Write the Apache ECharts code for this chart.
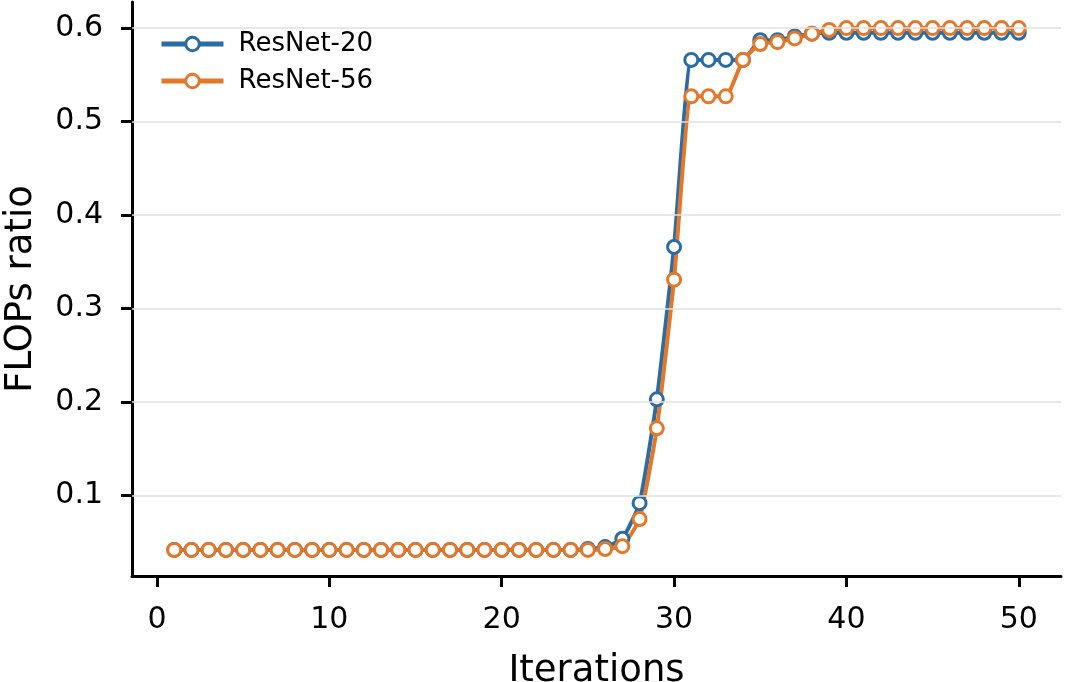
<!DOCTYPE html>
<html>
<head>
<meta charset="utf-8">
<script src="https://cdn.jsdelivr.net/npm/echarts@6/dist/echarts.min.js"></script>
<style>
  html, body { margin: 0; padding: 0; background: #fff; }
  #main { width: 1065px; height: 682px; }
</style>
</head>
<body>
<div id="main"></div>
<script>
// iterations 1..50
var iterations = [];
for (var i = 1; i <= 50; i++) iterations.push(i);

var resnet20 = [
  0.042, 0.042, 0.042, 0.042, 0.042, 0.042, 0.042, 0.042, 0.042, 0.042,
  0.042, 0.042, 0.042, 0.042, 0.042, 0.042, 0.042, 0.042, 0.042, 0.042,
  0.042, 0.042, 0.042, 0.042, 0.043, 0.045, 0.054, 0.092, 0.203, 0.366,
  0.566, 0.566, 0.566, 0.566, 0.587, 0.587, 0.591, 0.594, 0.595, 0.595,
  0.595, 0.595, 0.595, 0.595, 0.595, 0.595, 0.595, 0.595, 0.595, 0.595
];
var resnet56 = [
  0.042, 0.042, 0.042, 0.042, 0.042, 0.042, 0.042, 0.042, 0.042, 0.042,
  0.042, 0.042, 0.042, 0.042, 0.042, 0.042, 0.042, 0.042, 0.042, 0.042,
  0.042, 0.042, 0.042, 0.042, 0.042, 0.043, 0.046, 0.075, 0.172, 0.331,
  0.527, 0.527, 0.527, 0.566, 0.583, 0.585, 0.589, 0.594, 0.598, 0.600,
  0.600, 0.600, 0.600, 0.600, 0.600, 0.600, 0.600, 0.600, 0.600, 0.600
];
var xTicks = [0, 10, 20, 30, 40, 50];
var yTicks = [0.1, 0.2, 0.3, 0.4, 0.5, 0.6];

var blue = '#2c6ca4';
var orange = '#e4782a';
var font = 'DejaVu Sans';

function pairs(ys) {
  return iterations.map(function (x, k) { return [x, ys[k]]; });
}

var chart = echarts.init(document.getElementById('main'));

function lineSeries(name, ys, color) {
  return {
    name: name,
    type: 'line',
    data: pairs(ys),
    smooth: 0.15,
    symbol: 'circle',
    symbolSize: 13,
    showAllSymbol: true,
    lineStyle: { color: color, width: 4 },
    itemStyle: { color: '#fff', borderColor: color, borderWidth: 3 },
    emphasis: { disabled: true },
    z: 3
  };
}

function legendItem(name, color) {
  return {
    name: name,
    itemStyle: { color: '#fff', borderColor: color, borderWidth: 3 },
    lineStyle: { color: color, width: 5 }
  };
}

chart.setOption({
  animation: false,
  legend: {
    left: 154,
    top: 26,
    orient: 'vertical',
    itemGap: 11,
    itemWidth: 62,
    itemHeight: 17,
    textStyle: { fontFamily: font, fontSize: 26, color: '#000', padding: [0, 0, 0, 10] },
    data: [legendItem('ResNet-20', blue), legendItem('ResNet-56', orange)]
  },
  grid: { left: 132, right: 4, top: 2, bottom: 106, outerBoundsMode: 'none' },
  xAxis: {
    type: 'value',
    min: -1.45,
    max: 52.45,
    name: 'Iterations',
    nameLocation: 'middle',
    nameGap: 77,
    nameTextStyle: { fontFamily: font, fontSize: 37, color: '#000' },
    axisLine: { onZero: false, lineStyle: { color: '#000', width: 3 } },
    axisTick: { customValues: xTicks, length: 11, lineStyle: { color: '#000', width: 3 } },
    axisLabel: { customValues: xTicks, margin: 29, fontFamily: font, fontSize: 30, color: '#000' },
    splitLine: { show: false }
  },
  yAxis: {
    type: 'value',
    min: 0.0141,
    max: 0.6279,
    name: 'FLOPs ratio',
    nameLocation: 'middle',
    nameGap: 92,
    nameTextStyle: { fontFamily: font, fontSize: 37, color: '#000' },
    axisLine: { show: true, onZero: false, lineStyle: { color: '#000', width: 3 } },
    axisTick: { show: true, customValues: yTicks, length: 11, lineStyle: { color: '#000', width: 3 } },
    axisLabel: { customValues: yTicks, margin: 29, fontFamily: font, fontSize: 30, color: '#000',
      formatter: function (v) { return v.toFixed(1); } },
    splitLine: { show: false }
  },
  series: [
    lineSeries('ResNet-20', resnet20, blue),
    lineSeries('ResNet-56', resnet56, orange),
    {
      type: 'line',
      data: [],
      silent: true,
      markLine: {
        silent: true,
        symbol: 'none',
        label: { show: false },
        lineStyle: { color: '#e0e0e0', width: 1.5, type: 'solid' },
        data: yTicks.map(function (v) { return { yAxis: v }; })
      },
      z: 1
    }
  ]
});
</script>
</body>
</html>
